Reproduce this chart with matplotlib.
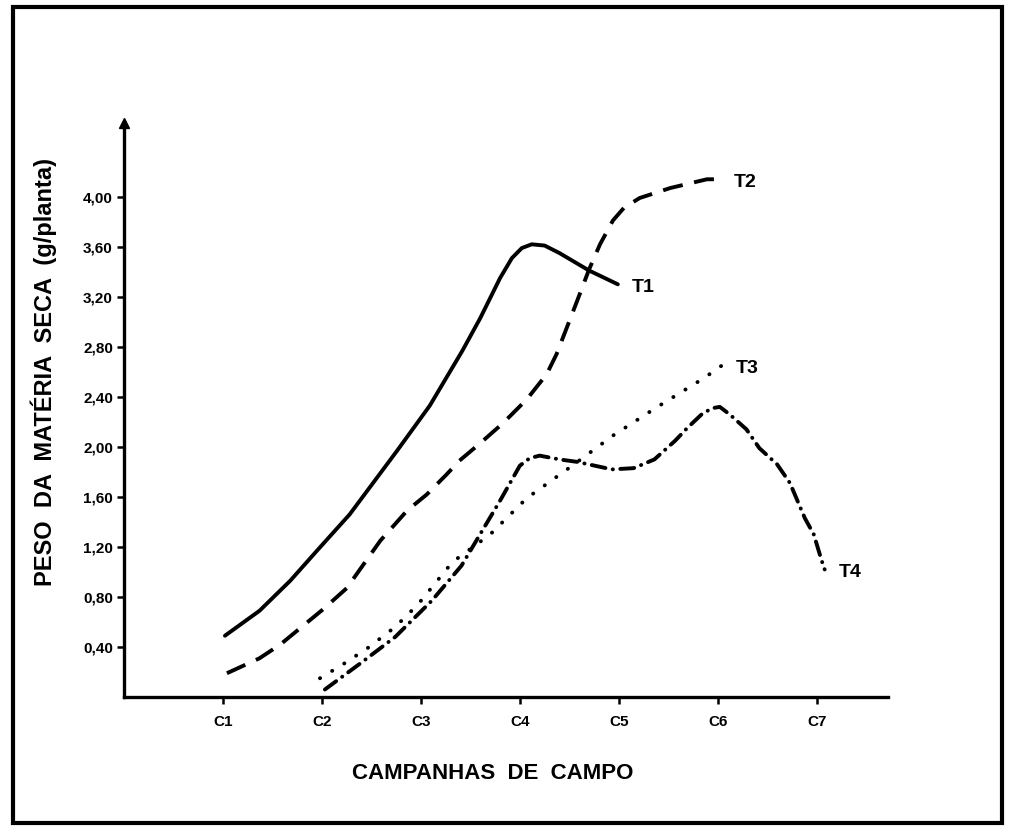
import matplotlib
matplotlib.use("Agg")
import matplotlib.pyplot as plt
from matplotlib.patches import Rectangle

# campaign positions (C1..C7) and dry matter weight (g/plant)
t1_x = [1.02, 1.37, 1.68, 1.95, 2.28, 2.76, 3.09, 3.42, 3.60, 3.80, 3.92, 4.02, 4.12, 4.25, 4.40, 4.70, 4.99]
t1_y = [0.49, 0.69, 0.93, 1.17, 1.46, 1.97, 2.33, 2.77, 3.03, 3.35, 3.51, 3.59, 3.62, 3.61, 3.55, 3.41, 3.30]

t2_x = [1.04, 1.37, 1.58, 1.81, 2.01, 2.25, 2.59, 2.86, 3.06, 3.26, 3.39, 3.60, 3.83, 4.07, 4.27, 4.37,
        4.58, 4.70, 4.81, 4.94, 5.05, 5.21, 5.52, 5.89, 6.02]
t2_y = [0.19, 0.31, 0.42, 0.57, 0.70, 0.87, 1.25, 1.49, 1.62, 1.78, 1.89, 2.03, 2.19, 2.38, 2.58, 2.74,
        3.17, 3.42, 3.62, 3.81, 3.91, 3.99, 4.07, 4.14, 4.14]

t3_x = [1.98, 2.21, 2.46, 2.74, 2.97, 3.32, 3.70, 4.07, 4.53, 4.94, 5.39, 5.86, 6.04]
t3_y = [0.15, 0.26, 0.39, 0.56, 0.74, 1.08, 1.30, 1.59, 1.85, 2.09, 2.32, 2.55, 2.65]

t4_x = [2.03, 2.39, 2.74, 3.11, 3.41, 3.59, 3.80, 4.00, 4.10, 4.20, 4.40, 4.58, 4.93, 5.15, 5.36, 5.57,
        5.69, 5.85, 5.95, 6.02, 6.12, 6.29, 6.42, 6.60, 6.73, 6.81, 6.88, 6.97, 7.05, 7.08]
t4_y = [0.06, 0.27, 0.48, 0.77, 1.05, 1.29, 1.57, 1.85, 1.91, 1.93, 1.90, 1.88, 1.82, 1.83, 1.90, 2.05,
        2.15, 2.27, 2.31, 2.32, 2.26, 2.14, 1.99, 1.86, 1.71, 1.56, 1.43, 1.30, 1.09, 1.02]

campanhas = ["C1", "C2", "C3", "C4", "C5", "C6", "C7"]
y_ticks = [0.40, 0.80, 1.20, 1.60, 2.00, 2.40, 2.80, 3.20, 3.60, 4.00]
series_names = ["T1", "T2", "T3", "T4"]

plt.rcParams['font.family'] = ['Liberation Sans', 'DejaVu Sans']
plt.rcParams['font.weight'] = 'bold'

fig = plt.figure(figsize=(10.09, 8.32), dpi=100)
ax = fig.add_axes([124 / 1009, 135 / 832, 764 / 1009, 574 / 832])

# page frame around the whole figure
fig.patches.append(Rectangle((13 / 1009, 9 / 832), 989 / 1009, 816 / 832, transform=fig.transFigure,
                             fill=False, lw=3.0, ec='black'))

lw = 2.8
styles = [
    dict(ls='-'),
    dict(ls=(0, (5.2, 3.0))),
    dict(ls=(0, (0.05, 3.6)), dash_capstyle='round'),
    dict(ls=(0, (3.6, 1.9, 0.05, 1.9)), dash_capstyle='round'),
]
all_x = [t1_x, t2_x, t3_x, t4_x]
all_y = [t1_y, t2_y, t3_y, t4_y]
for xs, ys, st, name in zip(all_x, all_y, styles, series_names):
    ax.plot(xs, ys, color='black', lw=lw, solid_capstyle='round', solid_joinstyle='round', **st)
    ax.annotate(name, (xs[-1], ys[-1]), xytext=(10, -2), textcoords='offset points',
                ha='left', va='center', fontsize=14, fontweight='bold')

ax.set_xlim(0, 7.72)
ax.set_ylim(0, 4.59)
ax.spines['top'].set_visible(False)
ax.spines['right'].set_visible(False)
ax.spines['left'].set_linewidth(2.4)
ax.spines['bottom'].set_linewidth(2.4)

# small arrow head on top of the y axis
ax.plot([0], [4.59], marker='^', ms=7, color='black', clip_on=False)

ax.set_xticks(range(1, 8))
ax.set_xticklabels(campanhas, fontsize=11, fontweight='bold')
ax.set_yticks(y_ticks)
ax.set_yticklabels([f"{v:.2f}".replace('.', ',') for v in y_ticks], fontsize=11, fontweight='bold')
ax.tick_params(axis='both', direction='out', length=5, width=1.8, pad=3)
ax.tick_params(axis='x', pad=8)

ax.set_xlabel("CAMPANHAS  DE  CAMPO", fontsize=16, fontweight='bold')
ax.set_ylabel("PESO  DA  MATÉRIA  SECA  (g/planta)", fontsize=17, fontweight='bold')
ax.xaxis.set_label_coords(0.483, -0.115)
ax.yaxis.set_label_coords(-0.088, 0.566)

fig.savefig("out.png", dpi=100)
